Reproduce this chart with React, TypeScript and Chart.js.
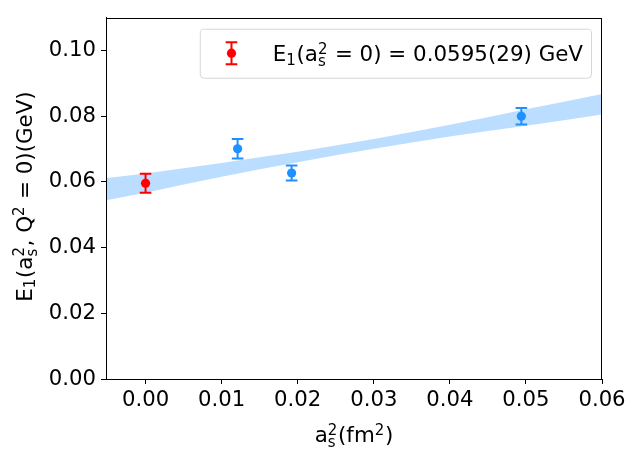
import React, { useEffect, useRef } from "react";
import { Chart, registerables } from "chart.js";

Chart.register(...registerables);

// ---- data ----
const latticeX = [0.0121, 0.0192, 0.0494];
const latticeY = [0.0701, 0.0627, 0.08];
const latticeErr = [0.003, 0.0023, 0.0025];

const extrapX = [0];
const extrapY = [0.0596];
const extrapErr = [0.0029];

const bandX = [-0.0052, 0, 0.005, 0.01, 0.015, 0.02, 0.025, 0.03, 0.035, 0.04, 0.045, 0.05, 0.055, 0.06];
const bandUpper = [0.0611, 0.0626, 0.0642, 0.0658, 0.0675, 0.0692, 0.0711, 0.0731, 0.0752, 0.0774, 0.0797, 0.0821, 0.0844, 0.0868];
const bandLower = [0.0544, 0.0567, 0.0592, 0.0616, 0.0639, 0.066, 0.0681, 0.0701, 0.072, 0.0738, 0.0755, 0.0771, 0.0788, 0.0805];

const xTicks = [0, 0.01, 0.02, 0.03, 0.04, 0.05, 0.06];
const xTickLabels = ["0.00", "0.01", "0.02", "0.03", "0.04", "0.05", "0.06"];
const yTicks = [0, 0.02, 0.04, 0.06, 0.08, 0.1];
const yTickLabels = ["0.00", "0.02", "0.04", "0.06", "0.08", "0.10"];

type Seg = { t: string; sub?: string; sup?: string };
const legendText: Seg[] = [{ t: "E", sub: "1" }, { t: "(a", sub: "s", sup: "2" }, { t: " = 0) = 0.0595(29) GeV" }];
const yTitle: Seg[] = [{ t: "E", sub: "1" }, { t: "(a", sub: "s", sup: "2" }, { t: ", Q", sup: "2" }, { t: " = 0)(GeV)" }];
const xTitle: Seg[] = [{ t: "a", sub: "s", sup: "2" }, { t: "(fm", sup: "2" }, { t: ")" }];

const FONT = "DejaVu Sans";
const FS = 21.4;
const TFS = 21.2;
const BLUE = "#1E90FF";
const RED = "#FF0000";

function rich(ctx: CanvasRenderingContext2D, segs: Seg[], x: number, y: number, size: number, draw: boolean): number {
  let cx = x;
  ctx.textBaseline = "alphabetic";
  ctx.textAlign = "left";
  for (const s of segs) {
    ctx.font = `${size}px "${FONT}"`;
    if (draw) ctx.fillText(s.t, cx, y);
    cx += ctx.measureText(s.t).width;
    if (s.sub || s.sup) {
      const small = size * 0.7;
      ctx.font = `${small}px "${FONT}"`;
      let w = 0;
      if (s.sup) {
        if (draw) ctx.fillText(s.sup, cx, y - size * 0.34);
        w = Math.max(w, ctx.measureText(s.sup).width);
      }
      if (s.sub) {
        const dy = s.sup ? size * 0.24 : size * 0.16;
        if (draw) ctx.fillText(s.sub, cx, y + dy);
        w = Math.max(w, ctx.measureText(s.sub).width);
      }
      cx += w + size * 0.03;
    }
  }
  return cx - x;
}

function drawErrBar(ctx: CanvasRenderingContext2D, px: number, top: number, bot: number, color: string) {
  ctx.save();
  ctx.strokeStyle = color;
  ctx.lineWidth = 2;
  ctx.beginPath();
  ctx.moveTo(px, top);
  ctx.lineTo(px, bot);
  ctx.moveTo(px - 5.8, top);
  ctx.lineTo(px + 5.8, top);
  ctx.moveTo(px - 5.8, bot);
  ctx.lineTo(px + 5.8, bot);
  ctx.stroke();
  ctx.restore();
}

const errPlugin = {
  id: "errbars",
  beforeDatasetDraw(chart: any, args: any) {
    const ds = chart.data.datasets[args.index];
    if (!ds.errs) return;
    const ctx = chart.ctx;
    const xs = chart.scales.x;
    const ys = chart.scales.y;
    ds.data.forEach((p: any, i: number) => {
      const px = xs.getPixelForValue(p.x);
      const t = ys.getPixelForValue(p.y + ds.errs[i]);
      const b = ys.getPixelForValue(p.y - ds.errs[i]);
      drawErrBar(ctx, px, t, b, ds.borderColor);
    });
  },
};

const decorPlugin = {
  id: "decor",
  afterDraw(chart: any) {
    const ctx: CanvasRenderingContext2D = chart.ctx;
    const a = chart.chartArea;
    ctx.save();
    // frame
    ctx.strokeStyle = "#000";
    ctx.lineWidth = 1;
    ctx.strokeRect(Math.round(a.left) + 0.5, Math.round(a.top) + 0.5, Math.round(a.right - a.left) - 1, Math.round(a.bottom - a.top));
    ctx.fillStyle = "#000";
    // x title
    const xw = rich(ctx, xTitle, 0, 0, FS, false);
    rich(ctx, xTitle, (a.left + a.right) / 2 - xw / 2, 442, FS, true);
    // y title
    const yw = rich(ctx, yTitle, 0, 0, FS, false);
    ctx.save();
    ctx.translate(31.5, 196.5);
    ctx.rotate(-Math.PI / 2);
    rich(ctx, yTitle, -yw / 2, 0, FS, true);
    ctx.restore();
    // legend
    const tw = rich(ctx, legendText, 0, 0, FS, false);
    const right = a.right - 11;
    const top = a.top + 11;
    const left = right - (73 + tw + 8);
    const h = 49;
    ctx.beginPath();
    (ctx as any).roundRect(left + 0.5, top + 0.5, right - left, h, 4);
    ctx.fillStyle = "rgba(255,255,255,0.8)";
    ctx.fill();
    ctx.strokeStyle = "#d6d6d6";
    ctx.lineWidth = 1;
    ctx.stroke();
    const mx = left + 31.7;
    const my = top + 24.5;
    drawErrBar(ctx, mx, my - 11, my + 11, RED);
    ctx.fillStyle = RED;
    ctx.beginPath();
    ctx.arc(mx, my, 4.6, 0, Math.PI * 2);
    ctx.fill();
    ctx.fillStyle = "#000";
    rich(ctx, legendText, left + 73, top + 32.5, FS, true);
    ctx.restore();
  },
};

export default function App() {
  const ref = useRef<HTMLCanvasElement>(null);
  useEffect(() => {
    document.body.style.margin = "0";
    if (!ref.current) return;
    const tickFont = { family: FONT, size: TFS };
    const chart = new Chart(ref.current, {
      type: "scatter",
      data: {
        datasets: [
          {
            label: "band upper",
            data: bandX.map((x, i) => ({ x, y: bandUpper[i] })),
            showLine: true,
            pointRadius: 0,
            borderWidth: 0,
            borderColor: "rgba(0,0,0,0)",
            fill: false,
            order: 10,
          },
          {
            label: "band lower",
            data: bandX.map((x, i) => ({ x, y: bandLower[i] })),
            showLine: true,
            pointRadius: 0,
            borderWidth: 0,
            borderColor: "rgba(0,0,0,0)",
            backgroundColor: "rgba(30,144,255,0.3)",
            fill: "-1",
            order: 9,
          },
          {
            label: "lattice",
            data: latticeX.map((x, i) => ({ x, y: latticeY[i] })),
            errs: latticeErr,
            pointRadius: 4.6,
            pointBackgroundColor: BLUE,
            pointBorderWidth: 0,
            borderColor: BLUE,
            backgroundColor: BLUE,
            order: 2,
          } as any,
          {
            label: "extrapolated",
            data: extrapX.map((x, i) => ({ x, y: extrapY[i] })),
            errs: extrapErr,
            pointRadius: 4.6,
            pointBackgroundColor: RED,
            pointBorderWidth: 0,
            borderColor: RED,
            backgroundColor: RED,
            order: 1,
          } as any,
        ],
      },
      options: {
        animation: false,
        responsive: false,
        devicePixelRatio: 1,
        layout: { padding: { left: 0, top: 10, right: 35, bottom: 0 } },
        plugins: { legend: { display: false }, tooltip: { enabled: false } },
        scales: {
          x: {
            type: "linear",
            min: -0.0052,
            max: 0.06,
            afterBuildTicks: (s: any) => {
              s.ticks = xTicks.map((v) => ({ value: v }));
            },
            afterFit: (s: any) => {
              s.height = 80;
            },
            ticks: {
              font: tickFont,
              color: "#000",
              padding: 4,
              maxRotation: 0,
              autoSkip: false,
              callback: (v: any) => xTickLabels[xTicks.findIndex((t) => Math.abs(t - v) < 1e-9)] ?? "",
            },
            grid: { display: true, drawOnChartArea: false, drawTicks: true, tickLength: 5, color: "#000", lineWidth: 1 },
            border: { display: true, color: "#000", width: 1 },
          },
          y: {
            type: "linear",
            min: 0,
            max: 0.11,
            afterBuildTicks: (s: any) => {
              s.ticks = yTicks.map((v) => ({ value: v }));
            },
            afterFit: (s: any) => {
              s.width = 106;
            },
            ticks: {
              font: tickFont,
              color: "#000",
              padding: 5,
              autoSkip: false,
              callback: (v: any) => yTickLabels[yTicks.findIndex((t) => Math.abs(t - v) < 1e-9)] ?? "",
            },
            grid: { display: true, drawOnChartArea: false, drawTicks: true, tickLength: 5, color: "#000", lineWidth: 1 },
            border: { display: true, color: "#000", width: 1 },
          },
        },
      },
      plugins: [errPlugin, decorPlugin],
    } as any);
    return () => chart.destroy();
  }, []);
  return <canvas ref={ref} width={637} height={459} style={{ display: "block", width: 637, height: 459 }} />;
}
